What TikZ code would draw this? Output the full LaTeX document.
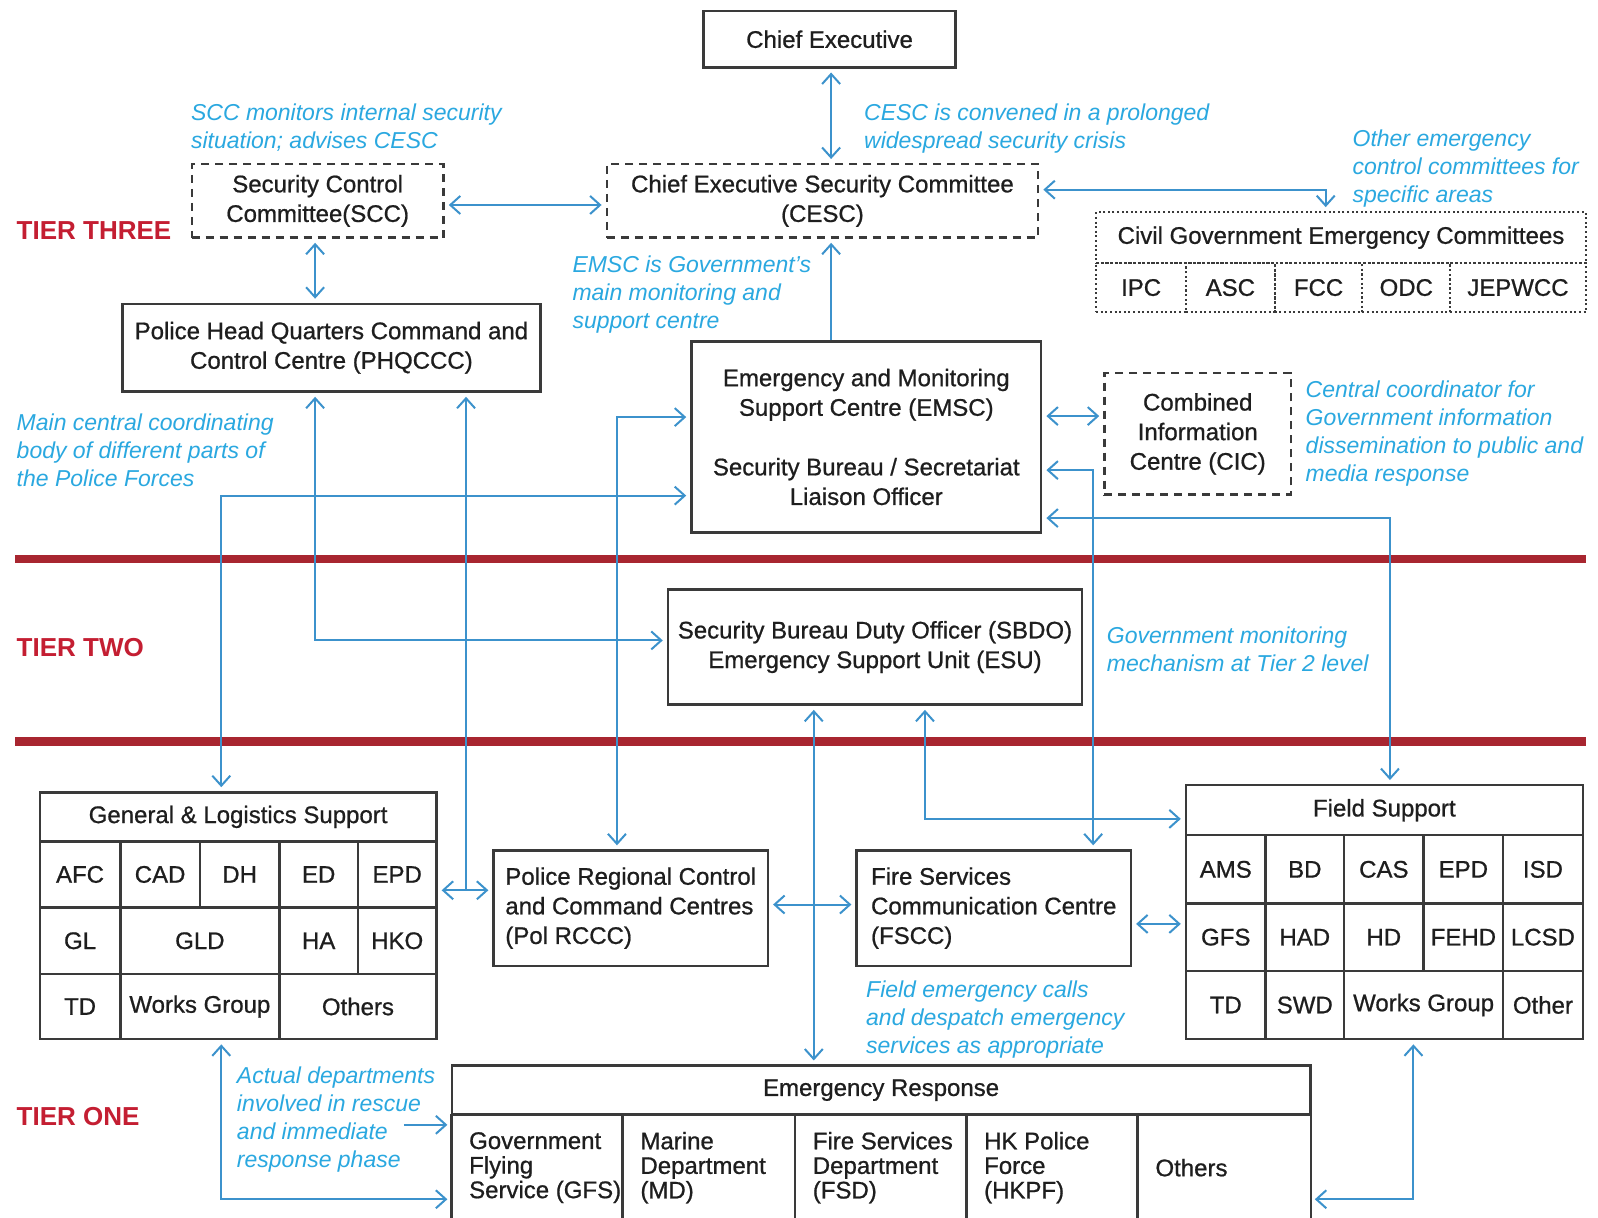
\documentclass[tikz,border=0pt]{standalone}
\usepackage{fontspec}
\setmainfont{Liberation Sans}
\newfontfamily\heavysans{Liberation Sans}[FakeBold=0.8]
\usetikzlibrary{arrows.meta,calc}
\definecolor{boxc}{HTML}{3A3A3A}
\definecolor{txtc}{HTML}{1E1E1E}
\definecolor{connc}{HTML}{3C92CC}
\definecolor{annc}{HTML}{2AA8E0}
\definecolor{redl}{HTML}{A82630}
\definecolor{tierc}{HTML}{C41E32}
\tikzset{
  box/.style={draw=boxc, line width=1.2pt, inner sep=0pt, align=center, text=txtc,
    font=\heavysans\fontsize{12}{14.8}\selectfont},
  dbox/.style={box, dash pattern=on 4pt off 3pt},
  obox/.style={box, line width=1pt, dash pattern=on 1pt off 1.3pt},
  cellnd/.style={inner sep=0pt},
  celltxt/.style={inner sep=0pt, anchor=west, align=left, text=txtc, font=\heavysans\fontsize{12}{12.3}\selectfont},
  boxline/.style={draw=boxc, line width=1.2pt},
  conn/.style={draw=connc, line width=1pt, shorten <=2pt, shorten >=2pt},
  annot/.style={inner sep=0pt, anchor=north west, align=left, text=annc,
    font=\fontsize{11.5}{14}\selectfont\itshape},
  tier/.style={inner sep=0pt, anchor=west, text=tierc, font=\fontsize{13}{15}\selectfont\bfseries},
  redline/.style={draw=redl, line width=4.2pt},
  >={Straight Barb[length=5pt,width=9pt]},
}
% name, style, x1, y1, x2, y2, text
\newcommand{\bx}[7]{\node[#2, minimum width={(#5-#3)*0.51pt}, minimum height={(#6-#4)*0.51pt}] (#1) at ({(#3+#5)/2},{(#4+#6)/2}) {#7};}
\begin{document}
\begin{tikzpicture}[x=0.51pt, y=-0.51pt]
\useasboundingbox (0,0) rectangle (1567,1194);
\fill[white] (0,0) rectangle (1567,1194);
\clip (0,0) rectangle (1567,1194);

% tier separators
\draw[redline] (15,548) -- (1555,548);
\draw[redline] (15,727) -- (1555,727);

% tier labels
\node[tier] (t3) at (16,226) {TIER THREE};
\node[tier] (t2) at (16,635) {TIER TWO};
\node[tier] (t1) at (16,1095) {TIER ONE};

% tier three
\bx{ce}{box}{690}{11}{937}{66}{Chief Executive}
\bx{cesc}{dbox}{595}{161}{1018}{233}{Chief Executive Security Committee\\(CESC)}
\bx{scc}{dbox}{188}{161}{435}{233}{Security Control\\Committee(SCC)}
\bx{cgh}{obox}{1075}{208}{1555}{258}{Civil Government Emergency Committees}
\bx{ipc}{obox}{1075}{258}{1163}{306}{IPC}
\bx{asc}{obox}{1163}{258}{1250}{306}{ASC}
\bx{fcc}{obox}{1250}{258}{1336}{306}{FCC}
\bx{odc}{obox}{1336}{258}{1422}{306}{ODC}
\bx{jep}{obox}{1422}{258}{1555}{306}{JEPWCC}
\bx{phq}{box}{120}{298}{530}{384}{Police Head Quarters Command and\\Control Centre (PHQCCC)}
\bx{emsc}{box}{678}{335}{1021}{522}{Emergency and Monitoring\\Support Centre (EMSC)\\[15pt]Security Bureau / Secretariat\\Liaison Officer}
\bx{cic}{dbox}{1083}{366}{1266}{485}{Combined\\Information\\Centre (CIC)}

% tier two
\bx{sbdo}{box}{655}{578}{1061}{691}{Security Bureau Duty Officer (SBDO)\\Emergency Support Unit (ESU)}

% tier one: general & logistics support
\bx{glh}{box}{39}{777}{428}{825}{General \& Logistics Support}
\bx{glafc}{box}{39}{825}{118}{890}{AFC}
\bx{glcad}{box}{118}{825}{196}{890}{CAD}
\bx{gldh}{box}{196}{825}{274}{890}{DH}
\bx{gled}{box}{274}{825}{351}{890}{ED}
\bx{glepd}{box}{351}{825}{428}{890}{EPD}
\bx{glgl}{box}{39}{890}{118}{955}{GL}
\bx{glgld}{box}{118}{890}{274}{955}{GLD}
\bx{glha}{box}{274}{890}{351}{955}{HA}
\bx{glhko}{box}{351}{890}{428}{955}{HKO}
\bx{gltd}{box}{39}{955}{118}{1019}{TD}
\bx{glwg}{box}{118}{955}{274}{1019}{Works Group}
\bx{glot}{box}{274}{955}{428}{1019}{Others}

% police regional / fire services centres
\bx{rccc}{box,align=left}{484}{834}{753}{947}{Police Regional Control\\and Command Centres\\(Pol RCCC)}
\bx{fscc}{box,align=left}{840}{834}{1109}{947}{Fire Services\\Communication Centre\\(FSCC)}

% field support
\bx{fsh}{box}{1163}{770}{1552}{819}{Field Support}
\bx{fsams}{box}{1163}{819}{1241}{886}{AMS}
\bx{fsbd}{box}{1241}{819}{1318}{886}{BD}
\bx{fscas}{box}{1318}{819}{1396}{886}{CAS}
\bx{fsepd}{box}{1396}{819}{1474}{886}{EPD}
\bx{fsisd}{box}{1474}{819}{1552}{886}{ISD}
\bx{fsgfs}{box}{1163}{886}{1241}{952}{GFS}
\bx{fshad}{box}{1241}{886}{1318}{952}{HAD}
\bx{fshd}{box}{1318}{886}{1396}{952}{HD}
\bx{fsfehd}{box}{1396}{886}{1474}{952}{FEHD}
\bx{fslcsd}{box}{1474}{886}{1552}{952}{LCSD}
\bx{fstd}{box}{1163}{952}{1241}{1019}{TD}
\bx{fsswd}{box}{1241}{952}{1318}{1019}{SWD}
\bx{fswg}{box}{1318}{952}{1474}{1019}{Works Group}
\bx{fsot}{box}{1474}{952}{1552}{1019}{Other}

% emergency response
\bx{er}{box}{443}{1045}{1285}{1093}{Emergency Response}
\bx{erc1}{cellnd}{443}{1093}{611}{1197}{}
\bx{erc2}{cellnd}{611}{1093}{780}{1197}{}
\bx{erc3}{cellnd}{780}{1093}{948}{1197}{}
\bx{erc4}{cellnd}{948}{1093}{1116}{1197}{}
\bx{erc5}{cellnd}{1116}{1093}{1285}{1197}{}
\foreach \c in {erc1,erc2,erc3,erc4,erc5} \draw[boxline] (\c.north west) -- (\c.south west);
\draw[boxline] (erc5.north east) -- (erc5.south east);
\node[celltxt] (ert1) at ([xshift=8.7pt]erc1.west) {Government\\Flying\\Service (GFS)};
\node[celltxt] (ert2) at ([xshift=8.7pt]erc2.west) {Marine\\Department\\(MD)};
\node[celltxt] (ert3) at ([xshift=8.7pt]erc3.west) {Fire Services\\Department\\(FSD)};
\node[celltxt] (ert4) at ([xshift=8.7pt]erc4.west) {HK Police\\Force\\(HKPF)};
\node[celltxt] (ert5) at ([xshift=8.7pt]erc5.west) {Others};

% annotations
\node[annot] (a1) at (187,101) {SCC monitors internal security\\situation; advises CESC};
\node[annot] (a2) at (847,101) {CESC is convened in a prolonged\\widespread security crisis};
\node[annot] (a3) at (1326,127) {Other emergency\\control committees for\\specific areas};
\node[annot] (a4) at (561,250) {EMSC is Government's\\main monitoring and\\support centre};
\node[annot] (a5) at (16,405) {Main central coordinating\\body of different parts of\\the Police Forces};
\node[annot] (a6) at (1280,373) {Central coordinator for\\Government information\\dissemination to public and\\media response};
\node[annot] (a7) at (1085,614) {Government monitoring\\mechanism at Tier 2 level};
\node[annot] (a8) at (849,961) {Field emergency calls\\and despatch emergency\\services as appropriate};
\node[annot] (a9) at (232,1046) {Actual departments\\involved in rescue\\and immediate\\response phase};

% connectors
\draw[conn,<->] (815,0 |- ce.south) -- (815,0 |- cesc.north);
\draw[conn,<->] (scc.east |- 0,201) -- (cesc.west |- 0,201);
\draw[conn,<->] (cesc.east |- 0,186) -| (1300,0 |- cgh.north);
\draw[conn,<->] (309,0 |- scc.south) -- (309,0 |- phq.north);
\draw[conn,->,shorten <=0pt] (815,0 |- emsc.north) -- (815,0 |- cesc.south);
\draw[conn,<->] (emsc.east |- 0,408) -- (cic.west |- 0,408);
\draw[conn,<->] (309,0 |- phq.south) |- (sbdo.west |- 0,628);
\coordinate (j1) at (457,873);
\draw[conn,->,shorten <=0pt] (j1) -- (457,0 |- phq.south);
\draw[conn,<->] (glepd.east |- j1) -- (rccc.west |- j1);
\draw[conn,<->] (217,0 |- glh.north) |- (emsc.west |- 0,486);
\draw[conn,<->] (emsc.west |- 0,409) -| (605,0 |- rccc.north);
\draw[conn,<->] (emsc.east |- 0,461) -| (1072,0 |- fscc.north);
\draw[conn,<->] (emsc.east |- 0,508) -| (1363,0 |- fsh.north);
\draw[conn,<->] (798,0 |- sbdo.south) -- (798,0 |- er.north);
\draw[conn,<->] (907,0 |- sbdo.south) |- (fsh.west |- 0,803);
\draw[conn,<->] (rccc.east |- 0,887) -- (fscc.west |- 0,887);
\draw[conn,<->] (fscc.east |- 0,906) -- (fsgfs.west |- 0,906);
\draw[conn,<->] (217,0 |- glwg.south) |- (erc1.west |- 0,1176);
\coordinate (j2) at (396,1103);
\draw[conn,->,shorten <=0pt] (j2) -- (erc1.west |- j2);
\draw[conn,<->] (1386,0 |- fswg.south) |- (erc5.east |- 0,1176);
\end{tikzpicture}
\end{document}
